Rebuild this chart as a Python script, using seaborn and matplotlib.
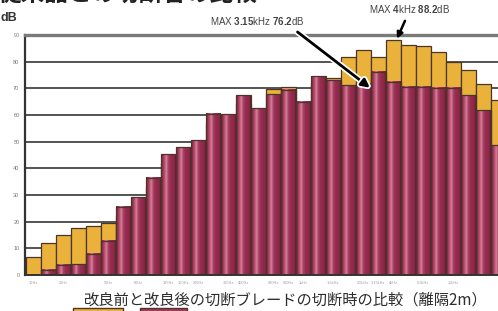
import numpy as np
import pandas as pd
import seaborn as sns
import matplotlib.pyplot as plt
from matplotlib.colors import LinearSegmentedColormap
from matplotlib.patches import Rectangle
import matplotlib.patheffects as pe

# 1/3 octave bands
freqs = ["16Hz", "20Hz", "25Hz", "31.5Hz", "40Hz", "50Hz", "63Hz", "80Hz",
         "100Hz", "125Hz", "160Hz", "200Hz", "250Hz", "315Hz", "400Hz", "500Hz",
         "630Hz", "800Hz", "1kHz", "1.25kHz", "1.6kHz", "2kHz", "2.5kHz", "3.15kHz",
         "4kHz", "5kHz", "6.3kHz", "8kHz", "10kHz", "12.5kHz", "16kHz", "20kHz"]

# 改良前 (yellow)
before = [6.9, 12.1, 15.0, 17.5, 18.4, 19.6, 22.0, 26.0,
          33.0, 42.0, 45.0, 48.0, 57.0, 58.0, 64.0, 60.0,
          69.6, 70.6, 63.0, 72.0, 73.7, 81.9, 84.4, 81.9,
          88.2, 86.2, 86.0, 83.6, 79.7, 77.0, 71.6, 65.8]

# 改良後 (red)
after = [0.0, 1.9, 3.8, 4.0, 7.9, 12.9, 25.6, 29.1,
         36.5, 45.2, 47.9, 50.6, 60.4, 60.2, 67.5, 62.5,
         67.8, 69.4, 65.0, 74.6, 73.1, 71.2, 71.8, 76.2,
         72.5, 70.6, 70.6, 70.2, 70.2, 67.5, 61.7, 48.7]

labeled = [0, 2, 5, 7, 9, 10, 11, 13, 14, 16, 17, 18, 20, 22, 23, 24, 26, 28]

title = "従来品との切断音の比較"
caption = "改良前と改良後の切断ブレードの切断時の比較（離隔2m）"

df = pd.DataFrame({
    "freq": freqs * 2,
    "dB": before + after,
    "cond": ["改良前"] * len(freqs) + ["改良後"] * len(freqs),
})

sns.set_style("white")
plt.rcParams['font.family'] = ['Liberation Sans', 'Noto Sans CJK JP']
plt.rcParams['mathtext.fontset'] = 'custom'
plt.rcParams['mathtext.rm'] = 'Liberation Sans'
plt.rcParams['mathtext.bf'] = 'Liberation Sans:bold'

fig = plt.figure(figsize=(4.98, 3.11), dpi=100)
ax = fig.add_axes([25 / 498, 36 / 311, 480.75 / 498, 240 / 311])

sns.barplot(data=df, x="freq", y="dB", hue="cond", order=freqs,
            hue_order=["改良前", "改良後"], palette=["#eab23a", "#983252"],
            saturation=1, dodge=False, width=1.0, edgecolor="#4a3628",
            linewidth=0.9, legend=False, ax=ax, zorder=2)

# cylinder-like shading on the red bars
cmap = LinearSegmentedColormap.from_list("red_bar", [
    (0.0, "#5a1f33"), (0.08, "#8f2a4b"), (0.22, "#b44a6d"), (0.36, "#d7849c"),
    (0.48, "#ab4165"), (0.65, "#952c4f"), (0.9, "#8b2848"), (1.0, "#5a1f33")])
grad = np.linspace(0, 1, 64)[np.newaxis, :]
for bar in ax.containers[1]:
    h = bar.get_height()
    if h <= 0:
        continue
    x0, w = bar.get_x(), bar.get_width()
    ax.imshow(grad, extent=[x0, x0 + w, 0, h], aspect="auto", cmap=cmap,
              zorder=2.5, interpolation="bilinear")
    bar.set_facecolor("none")
    bar.set_zorder(3)

ax.set_xlim(-0.55, 31.5)
ax.set_ylim(0, 90)
ax.set_yticks(range(0, 91, 10))
ax.set_yticklabels([str(v) for v in range(0, 91, 10)], fontsize=4, color="#777777")
ax.set_xticks(range(len(freqs)))
ax.set_xticklabels([f if i in labeled else "" for i, f in enumerate(freqs)],
                   fontsize=2.8, color="#a0a0a0")
ax.tick_params(length=0, pad=4)
ax.set_xlabel("")
ax.set_ylabel("")

ax.set_axisbelow(True)
ax.yaxis.grid(True, color="#454545", linewidth=1.3)
ax.xaxis.grid(False)
ax.spines["top"].set_color("#7a7a7a")
ax.spines["top"].set_linewidth(2.4)
ax.spines["left"].set_color("#333333")
ax.spines["left"].set_linewidth(1.6)
ax.spines["bottom"].set_color("#333333")
ax.spines["bottom"].set_linewidth(1.4)
ax.spines["right"].set_visible(False)

stroke = [pe.withStroke(linewidth=4.5, foreground="white")]
ax.annotate(r"MAX $\mathbf{3.15}$kHz $\mathbf{76.2}$dB",
            xy=(22.45, 70.2), xycoords="data",
            xytext=(257, 311 - 21), textcoords="figure pixels",
            ha="center", va="center", fontsize=7, color="#444444",
            arrowprops=dict(arrowstyle="-|>,head_length=0.7,head_width=0.35",
                            color="black", lw=2.0, relpos=(0.86, 0.0),
                            shrinkA=2, shrinkB=0, path_effects=stroke))
ax.annotate(r"MAX $\mathbf{4}$kHz $\mathbf{88.2}$dB",
            xy=(24.25, 88.6), xycoords="data",
            xytext=(410, 311 - 9), textcoords="figure pixels",
            ha="center", va="center", fontsize=7, color="#444444",
            arrowprops=dict(arrowstyle="-|>,head_length=0.5,head_width=0.25",
                            color="black", lw=1.8, relpos=(0.47, 0.0),
                            shrinkA=2, shrinkB=0))

# title is cropped at the top edge in the original
fig.text(-2 / 498, 305 / 311, title, family=["Noto Sans CJK JP"], fontsize=17,
         fontweight="bold", color="#222222", ha="left", va="bottom")
fig.text(20 / 498, 311 - 18, "dB", transform=None, fontsize=9,
         fontweight="bold", color="#333333", ha="left", va="center")
fig.text(286 / 498, 1 - 300 / 311, caption, family=["Noto Sans CJK JP"],
         fontsize=11, color="#2e2e2e", ha="center", va="center")

# legend swatches (cut off at the bottom edge)
fig.patches.append(Rectangle((73 / 498, -10 / 311), 50 / 498, 13 / 311,
                             transform=fig.transFigure, facecolor="#eab23a",
                             edgecolor="#4a3628", linewidth=1.0))
fig.patches.append(Rectangle((140 / 498, -10 / 311), 47 / 498, 13 / 311,
                             transform=fig.transFigure, facecolor="#a33a5c",
                             edgecolor="#4a3628", linewidth=1.0))

fig.savefig("out.png", dpi=100)
